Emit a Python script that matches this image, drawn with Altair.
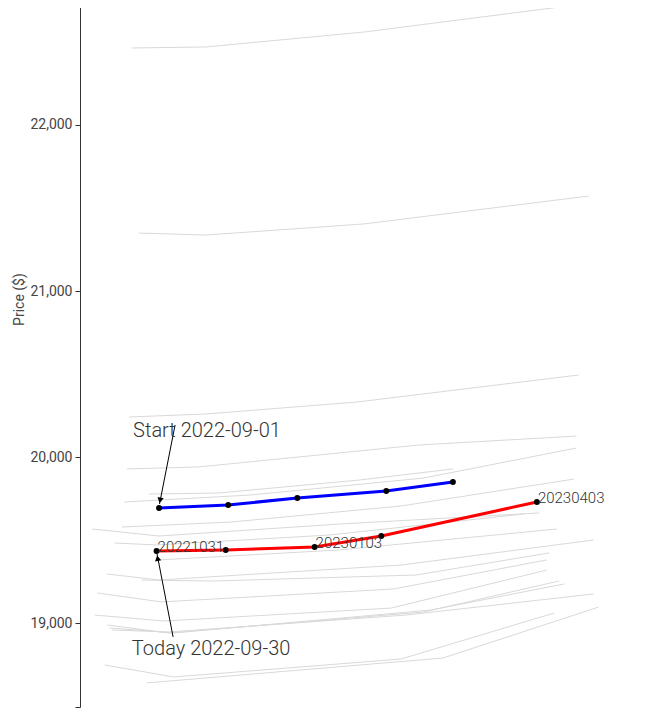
import altair as alt
import pandas as pd

# ---- data (days to expiry, price) ----
gray_days = [
    [21, 51, 115, 204],
    [24, 51, 115, 206],
    [20, 51, 112, 202],
    [19, 48, 137, 201],
    [28, 56, 113, 151],
    [18, 69, 139, 201],
    [17, 61, 130, 200],
    [5, 32, 105, 186],
    [14, 31, 101, 180],
    [32, 105, 193],
    [11, 32, 130, 208],
    [25, 54, 136, 190],
    [7, 33, 127, 189],
    [6, 34, 126, 189],
    [11, 36, 139, 194],
    [13, 36, 132, 208],
    [12, 38, 142, 196],
    [10, 38, 130, 192],
    [27, 147, 210],
]
gray_prices = [
    [22464, 22470, 22560, 22729],
    [21349, 21337, 21404, 21572],
    [20241, 20259, 20331, 20494],
    [19928, 19940, 20072, 20126],
    [19777, 19783, 19861, 19928],
    [19729, 19771, 19873, 20054],
    [19578, 19608, 19705, 19867],
    [19566, 19524, 19596, 19663],
    [19482, 19470, 19530, 19657],
    [19380, 19440, 19566],
    [19295, 19259, 19349, 19500],
    [19259, 19253, 19289, 19422],
    [19181, 19127, 19205, 19380],
    [19048, 19012, 19090, 19319],
    [18988, 18940, 19066, 19253],
    [18958, 18946, 19048, 19175],
    [18970, 18940, 19078, 19235],
    [18747, 18675, 18783, 19060],
    [18639, 18789, 19096],
]

start_days = [32, 60, 88, 124, 151]
start_prices = [19693, 19711, 19753, 19795, 19849]

today_days = [31, 59, 95, 122, 185]
today_prices = [19434, 19440, 19458, 19524, 19729]
today_labels = ["20221031", "", "20230103", "", "20230403"]

ann_text = ["Start 2022-09-01", "Today 2022-09-30"]
ann_days = [21.5, 21.0]
ann_prices = [20120, 18807]
arrow_from_days = [38.5, 37.7]
arrow_from_prices = [20193, 18916]
arrow_to_days = [32.2, 31.2]
arrow_to_prices = [19717, 19416]
head_days = [32.5, 31.5]
head_prices = [19745, 19385]
head_angles = [191, 349]

y_ticks = [18494, 19000, 20000, 21000, 22000]

# ---- tables ----
rows = []
for i, (ds, ps) in enumerate(zip(gray_days, gray_prices)):
    for d, p in zip(ds, ps):
        rows.append({"curve": f"g{i}", "days": d, "price": p})
gray_df = pd.DataFrame(rows)
start_df = pd.DataFrame({"days": start_days, "price": start_prices})
today_df = pd.DataFrame({"days": today_days, "price": today_prices, "label": today_labels})
lab_df = today_df[today_df["label"] != ""]
ann_df = pd.DataFrame({"text": ann_text, "days": ann_days, "price": ann_prices})
arrow_df = pd.DataFrame({"d1": arrow_from_days, "p1": arrow_from_prices,
                         "d2": arrow_to_days, "p2": arrow_to_prices})
head_df = pd.DataFrame({"days": head_days, "price": head_prices, "angle": head_angles})

FONT = "Roboto"
xs = alt.Scale(domain=[0, 222.7], nice=False, zero=False)
ys = alt.Scale(domain=[18494, 22753], nice=False, zero=False)

X = alt.X("days:Q", scale=xs, axis=None)
Y = alt.Y("price:Q", scale=ys, title="Price ($)",
          axis=alt.Axis(values=y_ticks, grid=False, tickSize=5, labelPadding=3,
                        labelExpr="datum.value < 18900 ? '' : format(datum.value, ',')",
                        domainColor="#333333", tickColor="#333333",
                        labelColor="#444444", labelFontSize=14, labelFont=FONT,
                        titleColor="#444444", titleFontSize=14, titleFont=FONT,
                        titleFontWeight="normal", titleX=-61, titleY=299,
                        titleBaseline="middle"))

gray = alt.Chart(gray_df).mark_line(color="#d9d9d9", strokeWidth=1).encode(
    x=X, y=Y, detail="curve:N", order="days:Q")

blue = alt.Chart(start_df).mark_line(color="#0000ff", strokeWidth=3).encode(x=X, y=Y)
blue_pts = alt.Chart(start_df).mark_point(color="black", filled=True, size=35, opacity=1).encode(x=X, y=Y)
red = alt.Chart(today_df).mark_line(color="#ff0000", strokeWidth=3).encode(x=X, y=Y)
red_pts = alt.Chart(today_df).mark_point(color="black", filled=True, size=35, opacity=1).encode(x=X, y=Y)

labels = alt.Chart(lab_df).mark_text(align="left", baseline="alphabetic", dx=1, dy=1,
                                     fontSize=15, font=FONT, fontWeight=300,
                                     color="#333333").encode(x=X, y=Y, text="label:N")

ann = alt.Chart(ann_df).mark_text(align="left", baseline="alphabetic", fontSize=20,
                                  font=FONT, fontWeight=300, color="#333333").encode(
    x=X, y=Y, text="text:N")

arrows = alt.Chart(arrow_df).mark_rule(color="black", strokeWidth=1).encode(
    x=alt.X("d1:Q", scale=xs, axis=None), y=alt.Y("p1:Q", scale=ys),
    x2="d2:Q", y2="p2:Q")

heads = alt.Chart(head_df).mark_point(shape="triangle", filled=True, color="black",
                                      size=40, opacity=1).encode(
    x=X, y=Y, angle=alt.Angle("angle:Q", scale=None))

chart = alt.layer(gray, blue, red, arrows, heads, blue_pts, red_pts, labels, ann).properties(
    width=550, height=707,
    autosize=alt.AutoSizeParams(type="none"),
    padding={"left": 72, "top": -8, "right": 0, "bottom": 4},
).configure(font=FONT).configure_view(stroke=None, strokeWidth=0)

chart.save("out.html", embed_options={"renderer": "svg", "actions": False})
